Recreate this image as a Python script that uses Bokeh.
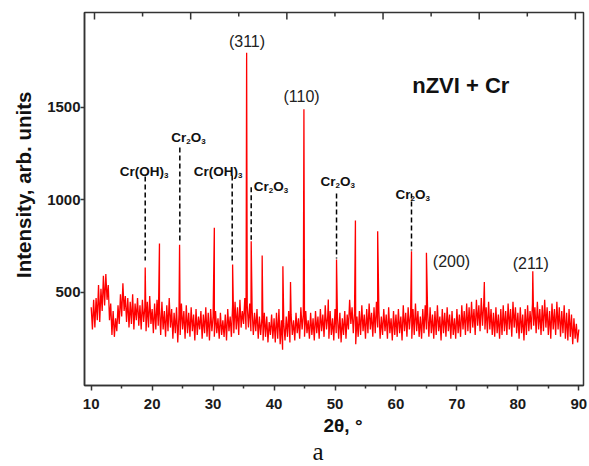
import numpy as np
from bokeh.plotting import figure
from bokeh.models import FixedTicker, Range1d, Title
from bokeh.core.properties import value
from bokeh.embed import file_html
from bokeh.resources import INLINE

# ---------------- data ----------------
two_theta_start = 10.0
two_theta_step = 0.2
background = [
    420, 300, 460, 310, 470, 350, 540, 340, 520, 400,   # 10
    590, 430, 600, 460, 540, 350, 440, 270, 400, 260,   # 12
    360, 290, 430, 330, 490, 370, 550, 400, 480, 340,   # 14
    470, 310, 450, 330, 490, 300, 440, 350, 470, 320,   # 16
    430, 300, 460, 340, 420, 290, 450, 310, 480, 330,   # 18
    410, 280, 440, 300, 460, 320, 420, 270, 450, 300,   # 20
    400, 260, 430, 290, 470, 310, 410, 250, 390, 280,   # 22
    420, 230, 380, 270, 440, 300, 400, 250, 430, 280,   # 24
    390, 260, 420, 290, 380, 240, 410, 270, 370, 300,   # 26
    400, 250, 380, 280, 420, 260, 390, 240, 410, 290,   # 28
    370, 260, 400, 280, 360, 250, 390, 270, 350, 260,   # 30
    380, 240, 410, 290, 370, 260, 430, 280, 450, 300,   # 32
    420, 270, 460, 310, 400, 330, 470, 300, 430, 310,   # 34
    440, 290, 410, 270, 390, 290, 410, 250, 370, 270,   # 36
    360, 240, 390, 260, 370, 230, 340, 270, 380, 250,   # 38
    360, 230, 390, 250, 410, 220, 350, 190, 330, 240,   # 40
    370, 260, 400, 230, 380, 270, 350, 240, 390, 280,   # 42
    360, 250, 420, 300, 380, 260, 400, 280, 350, 250,   # 44
    390, 270, 360, 240, 400, 280, 370, 250, 410, 290,   # 46
    380, 260, 430, 300, 370, 250, 400, 270, 360, 240,   # 48
    410, 280, 370, 250, 390, 230, 360, 270, 400, 250,   # 50
    380, 300, 460, 330, 420, 280, 390, 220, 370, 260,   # 52
    400, 270, 430, 290, 380, 250, 410, 280, 440, 300,   # 54
    390, 260, 420, 280, 450, 310, 400, 250, 370, 270,   # 56
    410, 290, 380, 250, 420, 280, 360, 240, 400, 270,   # 58
    380, 260, 410, 280, 370, 240, 430, 290, 390, 260,   # 60
    420, 300, 380, 250, 410, 270, 440, 290, 400, 260,   # 62
    370, 250, 410, 280, 430, 300, 390, 260, 420, 280,   # 64
    380, 250, 400, 270, 430, 290, 370, 240, 410, 280,   # 66
    390, 260, 420, 290, 380, 250, 400, 270, 360, 250,   # 68
    410, 280, 380, 260, 430, 300, 400, 270, 440, 290,   # 70
    420, 280, 450, 310, 410, 270, 460, 320, 430, 290,   # 72
    470, 320, 440, 300, 420, 280, 450, 300, 410, 270,   # 74
    390, 260, 420, 280, 380, 250, 410, 270, 430, 290,   # 76
    400, 270, 440, 300, 410, 260, 450, 310, 420, 280,   # 78
    390, 250, 420, 280, 380, 240, 410, 270, 430, 290,   # 80
    400, 300, 440, 320, 420, 280, 450, 300, 410, 270,   # 82
    430, 290, 460, 310, 420, 270, 400, 250, 440, 300,   # 84
    410, 270, 450, 300, 420, 260, 400, 280, 430, 250,   # 86
    390, 240, 410, 260, 380, 220, 360, 250, 330, 230,   # 88
    300,                                                # 90
]

peak_pos = [18.86, 21.2, 24.5, 30.2, 33.2, 35.5, 36.25, 38.05, 41.45, 42.7,
            44.9, 48.9, 50.25, 53.35, 57.0, 62.55, 65.0, 74.5, 82.45]
peak_int = [635, 765, 758, 850, 651, 1795, 776, 700, 642, 556,
            1490, 462, 678, 889, 831, 722, 715, 556, 615]

dash_x = [18.86, 24.54, 33.13, 36.25, 50.25, 62.55]
dash_top = [1127, 1284, 1132, 1068, 1035, 1035]
dash_bottom = [673, 770, 662, 785, 684, 727]

phase_labels = ["Cr(OH)3", "Cr2O3", "Cr(OH)3", "Cr2O3", "Cr2O3", "Cr2O3"]
phase_x = [14.69, 23.13, 26.83, 36.68, 47.62, 59.93]
phase_y = [1154, 1339, 1154, 1070, 1100, 1027]

hkl_labels = ["(311)", "(110)", "(200)", "(211)"]
hkl_x = [35.56, 44.51, 69.11, 82.12]
hkl_y = [1858, 1561, 669, 655]

x_ticks = [10, 20, 30, 40, 50, 60, 70, 80, 90]
x_minor = [15, 25, 35, 45, 55, 65, 75, 85]
y_ticks = [500, 1000, 1500]
top_ticks = [10.54, 26.32, 42.10, 57.88, 73.66, 89.44]
top_minor = [18.43, 34.21, 49.99, 65.77, 81.55]

# ---------------- build series ----------------
bg_x = two_theta_start + two_theta_step * np.arange(len(background))
x_all = np.concatenate([bg_x, np.array(peak_pos)])
y_all = np.concatenate([np.array(background, float), np.array(peak_int, float)])
order = np.argsort(x_all, kind="stable")
x_all = x_all[order]
y_all = y_all[order]

FONT = "Liberation Sans"
AX = "#333333"

Y0, Y1 = -3, 2013
FRAME_H = 373
p = figure(width=589, height=466,
           x_range=Range1d(8.9, 90.77), y_range=Range1d(Y0, Y1),
           output_backend="svg", toolbar_location=None,
           min_border_left=84, min_border_right=6,
           min_border_top=12, min_border_bottom=81)
p.xgrid.visible = False
p.ygrid.visible = False
p.outline_line_color = AX
p.outline_line_width = 1.5
p.background_fill_color = "white"

for ax in (p.xaxis[0], p.yaxis[0]):
    ax.axis_line_color = AX
    ax.axis_line_width = 1.5
    ax.major_tick_line_color = AX
    ax.major_tick_line_width = 1.5
    ax.minor_tick_line_color = AX
    ax.minor_tick_line_width = 1.5
    ax.major_tick_in = 0
    ax.minor_tick_in = 0
    ax.major_label_text_font = FONT
    ax.major_label_text_font_style = "bold"
    ax.major_label_text_font_size = "15px"
    ax.major_label_text_color = "#1a1a1a"

p.xaxis.ticker = FixedTicker(ticks=x_ticks, minor_ticks=x_minor)
p.xaxis.major_tick_out = 5
p.xaxis.minor_tick_out = 3
p.xaxis.major_label_standoff = 8

p.yaxis.ticker = FixedTicker(ticks=y_ticks, minor_ticks=[])
p.yaxis.major_tick_out = 4
p.yaxis.minor_tick_out = 0
p.yaxis.major_label_standoff = 0
# leading no-break spaces move the centred title up, as in the original
p.yaxis.axis_label = "\u00a0" * 5 + "Intensity, arb. units"
p.yaxis.axis_label_standoff = 9
p.yaxis.axis_label_text_font = FONT
p.yaxis.axis_label_text_font_style = "bold"
p.yaxis.axis_label_text_font_size = "20.5px"
p.yaxis.axis_label_text_color = "#111111"

# titles below the frame
p.add_layout(Title(text="2θ, °", align="left", offset=239, standoff=2,
                   text_font=FONT, text_font_style="bold",
                   text_font_size="19px", text_color="#111111"), "below")
p.add_layout(Title(text="a", align="left", offset=228, standoff=-1,
                   text_font="Liberation Serif", text_font_style="normal",
                   text_font_size="25px", text_color="#111111"), "below")

# top-edge ticks (inward, unlabeled)
px_per_unit = FRAME_H / (Y1 - Y0)
p.segment(x0=top_ticks, y0=[Y1] * len(top_ticks), x1=top_ticks,
          y1=[Y1 - 7 / px_per_unit] * len(top_ticks),
          line_color=AX, line_width=1.5)
p.segment(x0=top_minor, y0=[Y1] * len(top_minor), x1=top_minor,
          y1=[Y1 - 4 / px_per_unit] * len(top_minor),
          line_color=AX, line_width=1.5)

# pattern
p.line(x_all, y_all, line_color="#ff0000", line_width=1.3)

# phase marker lines
p.segment(x0=dash_x, y0=dash_top, x1=dash_x, y1=dash_bottom,
          line_color="black", line_width=1.5, line_dash="5 3")

# phase labels with subscripts
W = {"C": 722, "r": 389, "(": 333, ")": 333, "O": 778, "H": 722}
MAIN, SUB = 13.5, 8.0
drop = 4.0 / px_per_unit


def split_formula(s):
    parts, buf = [], ""
    for ch in s:
        if ch.isdigit():
            if buf:
                parts.append((buf, False))
                buf = ""
            parts.append((ch, True))
        else:
            buf += ch
    if buf:
        parts.append((buf, False))
    return parts


mx, my, mt, mo = [], [], [], []
sx, sy, st, so = [], [], [], []
for lab, lx, ly in zip(phase_labels, phase_x, phase_y):
    off = 0.0
    for txt, sub in split_formula(lab):
        size = SUB if sub else MAIN
        w = sum(W.get(c, 556) for c in txt) / 1000.0 * size
        if sub:
            sx.append(lx); sy.append(ly - drop); st.append(txt); so.append(off)
        else:
            mx.append(lx); my.append(ly); mt.append(txt); mo.append(off)
        off += w

p.text(x=mx, y=my, text=mt, x_offset=mo, text_font=value(FONT),
       text_font_style="bold", text_font_size="13.5px", text_color="#111111",
       text_align="left", text_baseline="alphabetic")
p.text(x=sx, y=sy, text=st, x_offset=so, text_font=value(FONT),
       text_font_style="bold", text_font_size="8px", text_color="#111111",
       text_align="left", text_baseline="alphabetic")

# reflection labels
p.text(x=hkl_x, y=hkl_y, text=hkl_labels, text_font=value(FONT),
       text_font_size="16px", text_color="#222222",
       text_align="center", text_baseline="middle")

p.text(x=[62.67], y=[1619], text=["nZVI + Cr"], text_font=value(FONT),
       text_font_style="bold", text_font_size="22px", text_color="#111111",
       text_align="left", text_baseline="middle")

open("out.html", "w").write(file_html(p, INLINE))
